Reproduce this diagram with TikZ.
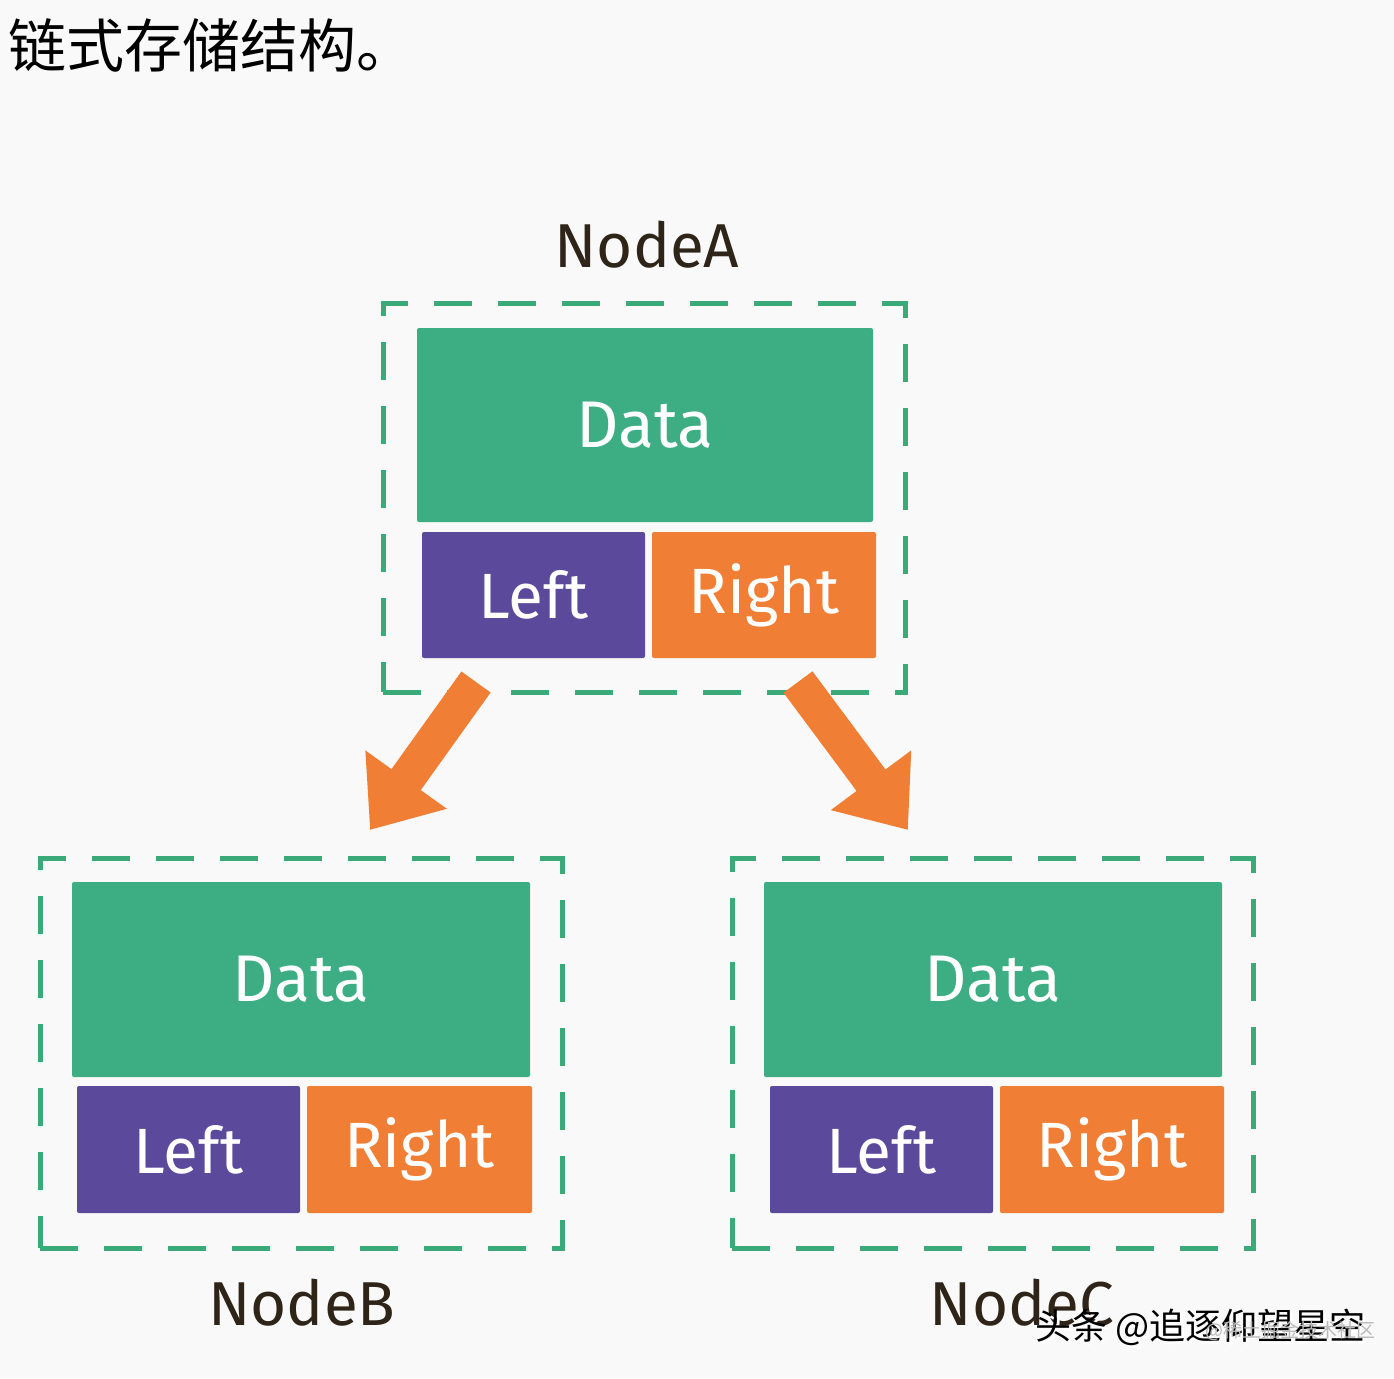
\documentclass[tikz,border=0pt]{standalone}
\usepackage{fontspec}
\setmainfont{Fira Sans}
\newfontfamily\cjk{Noto Sans CJK SC}
\usetikzlibrary{arrows.meta}
\definecolor{bggray}{HTML}{F9F9F9}
\definecolor{dgreen}{HTML}{3DAE83}
\definecolor{dashgreen}{HTML}{3AAA78}
\definecolor{dpurple}{HTML}{5B4A9C}
\definecolor{dorange}{HTML}{F07E34}
\definecolor{dbrown}{HTML}{2E2418}
\tikzset{
  outerbox/.style={draw=dashgreen, line width=5pt, dash pattern=on 38pt off 26pt, fill=none},
  databox/.style={fill=dgreen, draw=none, rounded corners=2pt, text=white, font=\fontsize{66}{70}\selectfont},
  leftbox/.style={fill=dpurple, draw=none, rounded corners=2pt, text=white, font=\fontsize{64}{68}\selectfont},
  rightbox/.style={fill=dorange, draw=none, rounded corners=2pt, text=white, font=\fontsize{64}{68}\selectfont},
  nodelabel/.style={text=dbrown, font=\fontsize{62}{66}\selectfont},
  bigarrow/.style={draw=dorange, line width=36pt, -{Triangle[length=62pt,width=96pt]}},
}
\begin{document}
\begin{tikzpicture}[x=1pt,y=-1pt]
\fill[bggray] (0,0) rectangle (1394,1378);
\useasboundingbox (0,0) rectangle (1394,1378);

% title
\node[anchor=west, inner sep=0pt, font=\cjk\fontsize{58}{62}\selectfont] (title) at (8,45) {链式存储结构。};

% ---- NodeA
\node[outerbox, minimum width=522pt, minimum height=389pt, inner sep=0pt] (boxA) at (644,497.5) {};
\node[databox, minimum width=456pt, minimum height=194pt, inner sep=0pt] (dataA) at (645,425) {Data};
\node[leftbox, minimum width=223pt, minimum height=126pt, inner sep=0pt] (leftA) at (533.5,595) {Left};
\node[rightbox, minimum width=224pt, minimum height=126pt, inner sep=0pt] (rightA) at (764,595) {Right};
\node[nodelabel] (labA) at (647,245) {NodeA};

% ---- NodeB
\node[outerbox, minimum width=522pt, minimum height=390pt, inner sep=0pt] (boxB) at (301,1053) {};
\node[databox, minimum width=458pt, minimum height=195pt, inner sep=0pt] (dataB) at (301,979.5) {Data};
\node[leftbox, minimum width=223pt, minimum height=127pt, inner sep=0pt] (leftB) at (188.5,1149.5) {Left};
\node[rightbox, minimum width=225pt, minimum height=127pt, inner sep=0pt] (rightB) at (419.5,1149.5) {Right};
\node[nodelabel] (labB) at (302,1303) {NodeB};

% ---- NodeC
\node[outerbox, minimum width=521pt, minimum height=390pt, inner sep=0pt] (boxC) at (992.5,1053) {};
\node[databox, minimum width=458pt, minimum height=195pt, inner sep=0pt] (dataC) at (993,979.5) {Data};
\node[leftbox, minimum width=223pt, minimum height=127pt, inner sep=0pt] (leftC) at (881.5,1149.5) {Left};
\node[rightbox, minimum width=224pt, minimum height=127pt, inner sep=0pt] (rightC) at (1112,1149.5) {Right};
\node[nodelabel] (labC) at (1022,1303) {NodeC};

% ---- arrows
\coordinate (aL1) at (476,682);
\coordinate (aL2) at (370,830);
\coordinate (aR1) at (798,682);
\coordinate (aR2) at (908,830);
\draw[bigarrow] (aL1) -- (aL2);
\draw[bigarrow] (aR1) -- (aR2);

% ---- watermark
\node[anchor=west, inner sep=0pt, text=white, font=\cjk\fontsize{36}{40}\selectfont] (wm1s) at (1038,1330) {头条 @追逐仰望星空};
\node[anchor=west, inner sep=0pt, text=black, font=\cjk\fontsize{36}{40}\selectfont] (wm1) at (1035,1327) {头条 @追逐仰望星空};
\node[anchor=west, inner sep=0pt, text=gray!55, font=\cjk\fontsize{19}{21}\selectfont] (wm2) at (1205,1331) {@稀土掘金技术社区};
\end{tikzpicture}
\end{document}
